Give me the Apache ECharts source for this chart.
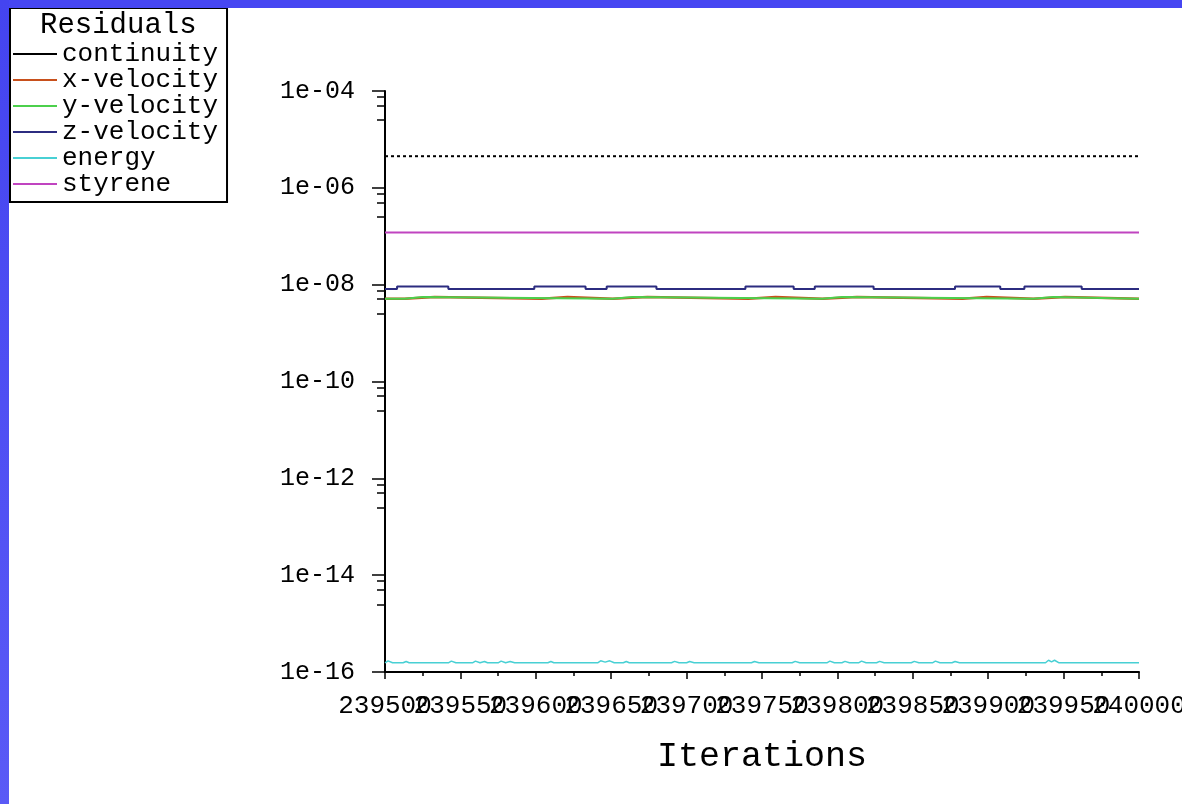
<!DOCTYPE html>
<html>
<head>
<meta charset="utf-8">
<script src="https://cdn.jsdelivr.net/npm/echarts@6/dist/echarts.min.js"></script>
<style>
  html, body { margin: 0; padding: 0; background: #ffffff; }
  #chart { position: absolute; left: 0; top: 0; width: 1182px; height: 804px; }
  #stripTop { position: absolute; left: 0; top: 0; width: 1182px; height: 8px; background: #4646f2; pointer-events: none; }
  #stripLeft { position: absolute; left: 0; top: 0; width: 9px; height: 804px; background: linear-gradient(#4444f0, #5a5af6); pointer-events: none; }
</style>
</head>
<body>
<div id="chart"></div>
<div id="stripTop"></div>
<div id="stripLeft"></div>
<script>
// ---- data ----
const seriesNames = ['continuity', 'x-velocity', 'y-velocity', 'z-velocity', 'energy', 'styrene'];

const continuity = [[239500, 4.5e-6], [240000, 4.5e-6]];

const xVelocity = [[239500, 5.1e-9], [239513, 5.55e-9], [239533, 5.1e-9], [239604, 5.55e-9], [239621, 5.1e-9],
  [239651, 5.55e-9], [239674, 5.1e-9], [239741, 5.55e-9], [239759, 5.1e-9], [239790, 5.55e-9], [239813, 5.1e-9],
  [239883, 5.55e-9], [239899, 5.1e-9], [239930, 5.55e-9], [239951, 5.1e-9], [240000, 5.1e-9]];

const yVelocity = [[239500, 5.1e-9], [239513, 5.55e-9], [239525, 5.1e-9], [239651, 5.55e-9], [239664, 5.1e-9],
  [239790, 5.55e-9], [239803, 5.1e-9], [239930, 5.55e-9], [239943, 5.1e-9], [240000, 5.1e-9]];

const zVelocity = [[239500, 8.1e-9], [239508, 9.2e-9], [239542, 8.1e-9], [239599, 9.2e-9], [239633, 8.1e-9],
  [239647, 9.2e-9], [239680, 8.1e-9], [239739, 9.2e-9], [239771, 8.1e-9], [239785, 9.2e-9], [239824, 8.1e-9],
  [239878, 9.2e-9], [239908, 8.1e-9], [239924, 9.2e-9], [239962, 8.1e-9], [240000, 8.1e-9]];

const energy = [[239500, 1.55e-16], [239502, 1.7e-16], [239505, 1.55e-16], [239512, 1.55e-16], [239514, 1.65e-16],
  [239516, 1.55e-16], [239542, 1.55e-16], [239544, 1.68e-16], [239547, 1.55e-16], [239558, 1.55e-16],
  [239560, 1.68e-16], [239563, 1.55e-16], [239566, 1.65e-16], [239568, 1.55e-16], [239575, 1.55e-16],
  [239577, 1.68e-16], [239580, 1.55e-16], [239583, 1.65e-16], [239586, 1.55e-16], [239608, 1.55e-16],
  [239610, 1.65e-16], [239612, 1.55e-16], [239641, 1.55e-16], [239643, 1.7e-16], [239646, 1.6e-16],
  [239649, 1.7e-16], [239652, 1.55e-16], [239658, 1.55e-16], [239660, 1.65e-16], [239662, 1.55e-16],
  [239690, 1.55e-16], [239692, 1.66e-16], [239695, 1.55e-16], [239700, 1.55e-16], [239702, 1.65e-16],
  [239705, 1.55e-16], [239743, 1.55e-16], [239745, 1.65e-16], [239748, 1.55e-16], [239770, 1.55e-16],
  [239772, 1.66e-16], [239775, 1.55e-16], [239793, 1.55e-16], [239795, 1.68e-16], [239798, 1.55e-16],
  [239803, 1.55e-16], [239805, 1.66e-16], [239808, 1.55e-16], [239814, 1.55e-16], [239816, 1.68e-16],
  [239819, 1.55e-16], [239826, 1.55e-16], [239828, 1.66e-16], [239831, 1.55e-16], [239849, 1.55e-16],
  [239851, 1.66e-16], [239854, 1.55e-16], [239863, 1.55e-16], [239865, 1.68e-16], [239868, 1.55e-16],
  [239876, 1.55e-16], [239878, 1.65e-16], [239881, 1.55e-16], [239938, 1.55e-16], [239940, 1.75e-16],
  [239942, 1.62e-16], [239944, 1.75e-16], [239947, 1.55e-16], [240000, 1.55e-16]];

const styrene = [[239500, 1.19e-7], [240000, 1.19e-7]];

// axis ticks / labels
const xMin = 239500, xMax = 240000, xStep = 50;
const xLabelsEven = [239500, 239600, 239700, 239800, 239900, 240000];
const xLabelsOdd = [239550, 239650, 239750, 239850, 239950];
const yMajorTicks = [1e-16, 1e-14, 1e-12, 1e-10, 1e-8, 1e-6, 1e-4];
const yMinorTicks = [7.5e-5, 5e-5, 2.5e-5, 7.5e-7, 5e-7, 2.5e-7, 7.5e-9, 5e-9, 2.5e-9,
  7.5e-11, 5e-11, 2.5e-11, 7.5e-13, 5e-13, 2.5e-13, 7.5e-15, 5e-15, 2.5e-15];

const colors = ['#000000', '#c8501c', '#4cd04c', '#2c2c80', '#48d0d4', '#c044c0'];
const FONT = 'Liberation Mono';

function yLabel(v) {
  const e = Math.round(Math.log10(v));
  const s = e < 0 ? '-' : '+';
  return '1e' + s + String(Math.abs(e)).padStart(2, '0');
}

const chart = echarts.init(document.getElementById('chart'), null, { renderer: 'canvas' });

const lineSeries = (name, data, color, extra) => Object.assign({
  name: name,
  type: 'line',
  data: data,
  xAxisIndex: 0,
  yAxisIndex: 0,
  showSymbol: false,
  symbol: 'none',
  smooth: false,
  silent: true,
  lineStyle: { color: color, width: 2 },
  itemStyle: { color: color },
  emphasis: { disabled: true }
}, extra || {});

const xLabelStyle = (vals) => ({
  show: true, customValues: vals, hideOverlap: false, showMinLabel: true, showMaxLabel: true,
  margin: 21, fontFamily: FONT, fontSize: 26, color: '#000',
  formatter: v => String(v)
});

chart.setOption({
  animation: false,
  backgroundColor: '#ffffff',
  title: {
    text: 'Residuals',
    left: 40,
    top: 11,
    padding: 0,
    textStyle: { fontFamily: FONT, fontSize: 29, fontWeight: 'normal', color: '#000' }
  },
  legend: {
    show: true,
    orient: 'vertical',
    left: 10,
    top: 8,
    padding: [33, 9, 5, 3],
    itemGap: 0,
    itemWidth: 44,
    itemHeight: 2,
    icon: 'rect',
    selectedMode: false,
    borderColor: '#000',
    borderWidth: 2,
    borderRadius: 0,
    backgroundColor: '#fff',
    data: seriesNames.map(n => ({ name: n, icon: 'rect' })),
    textStyle: { fontFamily: FONT, fontSize: 26, color: '#000', lineHeight: 26, padding: 0 }
  },
  grid: {
    left: 385,
    right: 43,
    top: 91,
    bottom: 132,
    containLabel: false,
    outerBoundsMode: 'none'
  },
  xAxis: [{
    type: 'value',
    min: xMin,
    max: xMax,
    interval: xStep,
    position: 'bottom',
    name: 'Iterations',
    nameLocation: 'middle',
    nameGap: 67,
    nameTextStyle: { fontFamily: FONT, fontSize: 35, color: '#000' },
    axisLine: { show: true, onZero: false, lineStyle: { color: '#000', width: 2 } },
    axisTick: { show: true, inside: false, length: 7, lineStyle: { color: '#000', width: 1.5 } },
    minorTick: { show: true, splitNumber: 2, length: 4, lineStyle: { color: '#000', width: 1.5 } },
    splitLine: { show: false },
    minorSplitLine: { show: false },
    axisLabel: xLabelStyle(xLabelsEven)
  }, {
    type: 'value',
    min: xMin,
    max: xMax,
    interval: xStep,
    position: 'bottom',
    offset: 0,
    axisLine: { show: false, onZero: false },
    axisTick: { show: false },
    minorTick: { show: false },
    splitLine: { show: false },
    axisLabel: xLabelStyle(xLabelsOdd)
  }],
  yAxis: [{
    type: 'log',
    logBase: 10,
    min: 1e-16,
    max: 1e-4,
    position: 'left',
    axisLine: { show: true, onZero: false, lineStyle: { color: '#000', width: 2 } },
    axisTick: { show: true, inside: false, length: 13, customValues: yMajorTicks, lineStyle: { color: '#000', width: 1.5 } },
    splitLine: { show: false },
    axisLabel: {
      show: true, customValues: yMajorTicks, hideOverlap: false, margin: 30,
      fontFamily: FONT, fontSize: 25, color: '#000', formatter: yLabel
    }
  }, {
    type: 'log',
    logBase: 10,
    min: 1e-16,
    max: 1e-4,
    position: 'left',
    offset: 0,
    axisLine: { show: false },
    axisTick: { show: true, inside: false, length: 8, customValues: yMinorTicks, lineStyle: { color: '#000', width: 1.5 } },
    splitLine: { show: false },
    axisLabel: { show: false }
  }],
  series: [
    lineSeries('continuity', continuity, colors[0], { lineStyle: { color: colors[0], width: 2, type: [3, 3] } }),
    lineSeries('x-velocity', xVelocity, colors[1], { step: 'end', lineStyle: { color: colors[1], width: 2.5 } }),
    lineSeries('y-velocity', yVelocity, colors[2], { step: 'end' }),
    lineSeries('z-velocity', zVelocity, colors[3], { step: 'end' }),
    lineSeries('energy', energy, colors[4], { lineStyle: { color: colors[4], width: 1.5 } }),
    lineSeries('styrene', styrene, colors[5])
  ]
});
</script>
</body>
</html>
